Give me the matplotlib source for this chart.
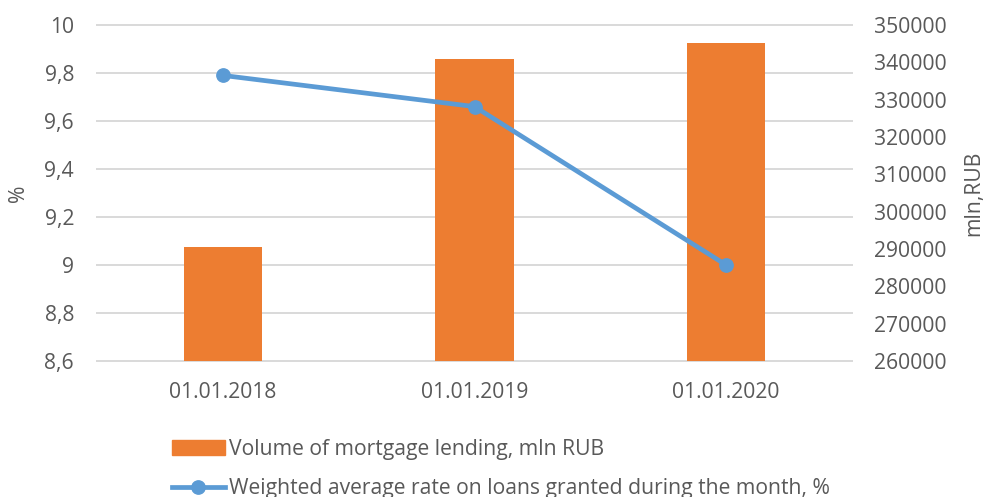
import matplotlib
matplotlib.use("Agg")
import matplotlib.pyplot as plt
from matplotlib.patches import Patch
from matplotlib.lines import Line2D
from matplotlib.transforms import blended_transform_factory

categories = ["01.01.2018", "01.01.2019", "01.01.2020"]
volume = [290500, 340900, 345100]
rate = [9.79, 9.66, 9.0]

left_ticks = [8.6, 8.8, 9.0, 9.2, 9.4, 9.6, 9.8, 10.0]
left_labels = ["8,6", "8,8", "9", "9,2", "9,4", "9,6", "9,8", "10"]
right_ticks = list(range(260000, 350001, 10000))

bar_color = "#ED7D31"
line_color = "#5B9BD5"
text_color = "#595959"
grid_color = "#D9D9D9"
fs = 15.2

plt.rcParams["font.family"] = ["Open Sans", "DejaVu Sans"]
fig = plt.figure(figsize=(9.83, 4.97), dpi=100)
ax = fig.add_axes([97/983, (497-361)/497, 755/983, 336/497])
ax2 = ax.twinx()

x = list(range(len(categories)))
ax.set_ylim(8.6, 10.0)
ax.set_xlim(-0.5, 2.5)

# gridlines (left axis values) drawn behind bars
tr = blended_transform_factory(ax2.transAxes, ax.transData)
for t in left_ticks:
    ax2.plot([0, 1], [t, t], color=grid_color, lw=1.4, transform=tr, zorder=0,
             clip_on=False)

ax2.bar(x, volume, width=0.31, color=bar_color, zorder=2)
ax2.set_ylim(260000, 350000)
ax2.set_yticks(right_ticks)
ax2.set_yticklabels([str(v) for v in right_ticks])

ax.set_yticks(left_ticks)
ax.set_yticklabels(left_labels)
ax.set_xticks(x)
ax.set_xticklabels(categories)

ax.set_zorder(ax2.get_zorder() + 1)
ax.patch.set_visible(False)
ax.plot(x, rate, color=line_color, lw=3.4, marker="o", markersize=9.6, zorder=5)

for a in (ax, ax2):
    for s in a.spines.values():
        s.set_visible(False)
    a.tick_params(length=0, labelsize=fs, colors=text_color)
ax.tick_params(axis="y", pad=16.5)
ax2.tick_params(axis="y", pad=16)
ax.tick_params(axis="x", pad=15)

ax.set_ylabel("%", fontsize=fs, color=text_color, labelpad=11)
ax2.set_ylabel("mln,RUB", fontsize=fs, color=text_color, labelpad=12)

handles = [Patch(color=bar_color),
           Line2D([0], [0], color=line_color, lw=3.4, marker="o", markersize=9.6)]
labels = ["Volume of mortgage lending, mln RUB",
          "Weighted average rate on loans granted during the month, %"]
leg = fig.legend(handles, labels, loc="upper left", bbox_to_anchor=(172/983, 1 - 439/497),
                 frameon=False, fontsize=fs, labelcolor=text_color, handlelength=2.5,
                 handletextpad=0.2, labelspacing=0.85, borderpad=0, borderaxespad=0)

fig.savefig("out.png", dpi=100)
